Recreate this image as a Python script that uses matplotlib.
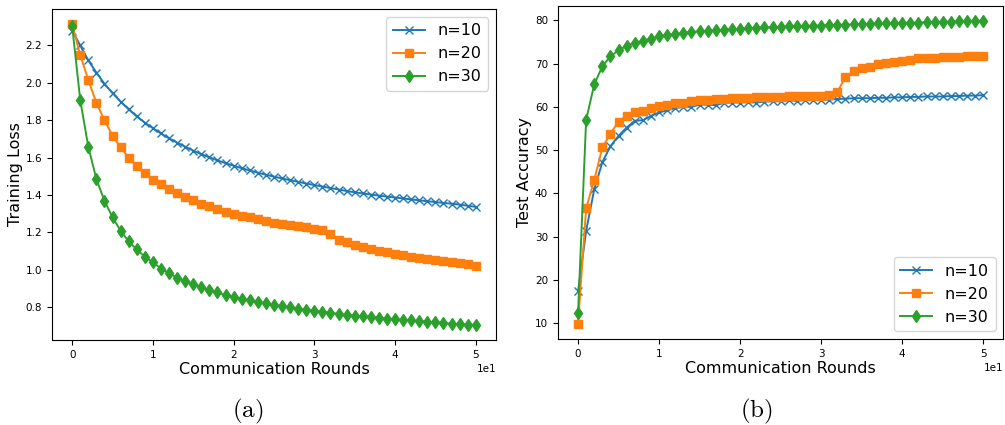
import numpy as np
import matplotlib.pyplot as plt

plt.rcParams['mathtext.fontset'] = 'cm'

# communication rounds 0..50
rounds = np.arange(51)
labels = ['n=10', 'n=20', 'n=30']

# training loss per client count
loss_n10 = [2.28, 2.20, 2.12, 2.055, 1.995, 1.945, 1.90, 1.858, 1.82, 1.787,
            1.757, 1.729, 1.703, 1.680, 1.658, 1.637, 1.618, 1.601, 1.585, 1.570,
            1.556, 1.543, 1.531, 1.519, 1.508, 1.498, 1.488, 1.479, 1.470, 1.461,
            1.453, 1.445, 1.437, 1.429, 1.421, 1.414, 1.408, 1.402, 1.396, 1.391,
            1.386, 1.381, 1.376, 1.371, 1.366, 1.362, 1.357, 1.353, 1.348, 1.342,
            1.336]
loss_n20 = [2.315, 2.148, 2.016, 1.893, 1.80, 1.717, 1.655, 1.60, 1.557, 1.519,
            1.482, 1.458, 1.432, 1.410, 1.389, 1.371, 1.353, 1.339, 1.323, 1.310,
            1.299, 1.288, 1.280, 1.271, 1.258, 1.251, 1.244, 1.239, 1.232, 1.226,
            1.219, 1.212, 1.192, 1.158, 1.146, 1.133, 1.121, 1.110, 1.101, 1.094,
            1.085, 1.076, 1.067, 1.060, 1.055, 1.049, 1.044, 1.039, 1.035, 1.028,
            1.020]
loss_n30 = [2.306, 1.909, 1.658, 1.485, 1.369, 1.281, 1.208, 1.151, 1.108, 1.069,
            1.039, 1.006, 0.981, 0.956, 0.938, 0.921, 0.905, 0.890, 0.878, 0.863,
            0.853, 0.843, 0.835, 0.827, 0.819, 0.810, 0.804, 0.799, 0.792, 0.784,
            0.781, 0.774, 0.769, 0.763, 0.758, 0.754, 0.751, 0.747, 0.742, 0.738,
            0.734, 0.731, 0.729, 0.725, 0.722, 0.718, 0.714, 0.711, 0.709, 0.706,
            0.704]

# test accuracy per client count
acc_n10 = [17.3, 31.3, 40.9, 47.2, 50.9, 53.3, 55.2, 56.8, 56.9, 57.9,
           58.7, 59.2, 59.7, 60.0, 60.0, 60.5, 60.5, 60.4, 60.9, 61.0,
           61.0, 61.1, 61.0, 61.2, 61.3, 61.3, 61.5, 61.4, 61.6, 61.6,
           61.6, 61.7, 61.8, 61.9, 62.0, 62.0, 62.0, 62.1, 62.1, 62.2,
           62.2, 62.3, 62.3, 62.4, 62.4, 62.4, 62.5, 62.5, 62.6, 62.6,
           62.7]
acc_n20 = [9.8, 36.5, 43.1, 50.6, 53.8, 56.6, 58.0, 58.8, 59.1, 59.8,
           60.2, 60.5, 60.8, 61.0, 61.3, 61.5, 61.7, 61.8, 61.9, 62.0,
           62.1, 62.1, 62.2, 62.2, 62.3, 62.3, 62.4, 62.4, 62.5, 62.5,
           62.6, 62.8, 63.4, 67.0, 68.2, 69.0, 69.3, 70.0, 70.1, 70.4,
           70.5, 70.9, 71.3, 71.3, 71.3, 71.5, 71.5, 71.6, 71.7, 71.7,
           71.7]
acc_n30 = [12.2, 57.0, 65.2, 69.4, 71.7, 73.1, 74.1, 74.8, 75.3, 75.8,
           76.3, 76.6, 76.8, 77.1, 77.3, 77.5, 77.6, 77.7, 77.8, 77.9,
           78.1, 78.2, 78.3, 78.4, 78.4, 78.5, 78.6, 78.6, 78.7, 78.8,
           78.8, 78.9, 79.0, 79.0, 79.1, 79.2, 79.2, 79.3, 79.3, 79.4,
           79.4, 79.5, 79.5, 79.6, 79.6, 79.7, 79.7, 79.8, 79.8, 79.9,
           79.9]

markers = ['x', 's', 'd']
colors = ['tab:blue', 'tab:orange', 'tab:green']

fig = plt.figure(figsize=(10.05, 4.25), dpi=100)
ax1 = fig.add_axes([0.0517, 0.200, 0.4418, 0.779])
ax2 = fig.add_axes([0.555, 0.2024, 0.4435, 0.7842])

# panel (a): training loss
for y, m, c, lab in zip([loss_n10, loss_n20, loss_n30], markers, colors, labels):
    ax1.plot(rounds, y, marker=m, color=c, label=lab, markersize=6, linewidth=1.4)
ax1.set_xlabel('Communication Rounds', fontsize=11.5, labelpad=2)
ax1.set_ylabel('Training Loss', fontsize=11.5, labelpad=2)
ax1.legend(loc='upper right', fontsize=11.5)

# panel (b): test accuracy
for y, m, c, lab in zip([acc_n10, acc_n20, acc_n30], markers, colors, labels):
    ax2.plot(rounds, y, marker=m, color=c, label=lab, markersize=6, linewidth=1.4)
ax2.set_xlabel('Communication Rounds', fontsize=11.5, labelpad=2)
ax2.set_ylabel('Test Accuracy', fontsize=11.5, labelpad=2)
ax2.legend(loc='lower right', fontsize=11.5)

for ax in (ax1, ax2):
    ax.ticklabel_format(axis='x', style='sci', scilimits=(0, 0))
    ax.tick_params(labelsize=7.5)
    ax.xaxis.get_offset_text().set_fontsize(7.5)

fig.text(0.246, 0.033, r'$\mathrm{(a)}$', fontsize=18, ha='center', va='center')
fig.text(0.753, 0.033, r'$\mathrm{(b)}$', fontsize=18, ha='center', va='center')

fig.savefig('out.png', dpi=100)
